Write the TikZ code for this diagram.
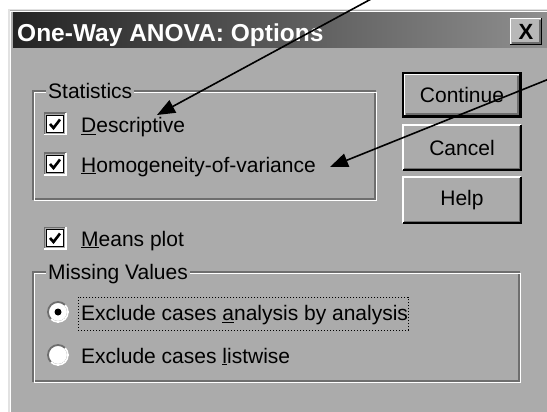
\documentclass[tikz,border=0pt]{standalone}
\usepackage{fontspec}
\setmainfont{Liberation Sans}
\usetikzlibrary{arrows.meta}
\definecolor{dlg}{HTML}{ABABAB}
\definecolor{shadowgray}{HTML}{6E6E6E}
\definecolor{hilite}{HTML}{E2E2E2}
\newcommand\raisedframe[1]{%
  \draw[white,line width=1.5pt] (#1.south west) -- (#1.north west) -- (#1.north east);
  \draw[black,line width=1.5pt] (#1.south west) -- (#1.south east) -- (#1.north east);
  \draw[shadowgray,line width=1.5pt] ([shift={(1.5,-1.5)}]#1.south west) -- ([shift={(-1.5,-1.5)}]#1.south east) -- ([shift={(-1.5,1.5)}]#1.north east);
}
\newcommand\sunkenframe[1]{%
  \draw[shadowgray,line width=1.5pt] ([shift={(-1.5,1.5)}]#1.south west) -- ([shift={(-1.5,-1.5)}]#1.north west) -- ([shift={(1.5,-1.5)}]#1.north east);
  \draw[white,line width=1.5pt] ([shift={(-1.5,1.5)}]#1.south west) -- ([shift={(1.5,1.5)}]#1.south east) -- ([shift={(1.5,-1.5)}]#1.north east);
}
\newcommand\checkmarkin[1]{%
  \draw[black,line width=2.6pt,line cap=butt,line join=miter] ([shift={(-5,0)}]#1.center) -- ([shift={(-1.5,4)}]#1.center) -- ([shift={(5,-4.5)}]#1.center);
}
\newcommand\radioframe[1]{%
  \draw[shadowgray,line width=1.8pt] (#1.center) circle[radius=10];
  \begin{scope}
    \clip ([shift={(-14,14)}]#1.center) -- ([shift={(14,-14)}]#1.center) -- ([shift={(14,14)}]#1.center) -- cycle;
    \draw[white,line width=1.8pt] (#1.center) circle[radius=10];
  \end{scope}
}
\begin{document}
\begin{tikzpicture}[x=1pt,y=-1pt,
  txt/.style={anchor=base west,inner sep=0pt,font=\fontsize{21}{24}\selectfont},
  grplbl/.style={anchor=base west,inner xsep=2pt,inner ysep=0pt,fill=dlg,font=\fontsize{21}{24}\selectfont},
  btn/.style={rectangle,fill=dlg,inner sep=0pt,minimum width=118pt,minimum height=45pt,font=\fontsize{21}{24}\selectfont},
  chk/.style={rectangle,draw=black,line width=1.5pt,fill=white,minimum size=17pt,inner sep=0pt},
  radio/.style={circle,fill=white,minimum size=19pt,inner sep=0pt},
  etched/.style={line width=1.5pt},
  pointer/.style={line width=1.6pt,-{Triangle[length=18pt,width=14pt]}}
]
\useasboundingbox (0,0) rectangle (547,412);
\fill[white] (0,0) rectangle (547,412);
% dialog body
\fill[dlg] (8,9) rectangle (548,413);
\draw[hilite,line width=1.5pt] (8.75,413) -- (8.75,9.75) -- (548,9.75);
\draw[white,line width=1.5pt] (10.5,413) -- (10.5,11.5) -- (548,11.5);
% title bar
\shade[left color=black!86,right color=black!44] (13,13) rectangle (548,48);
\node[anchor=base west,inner sep=0pt,text=white,font=\bfseries\fontsize{24.5}{28}\selectfont] (title) at (17,42) {One-Way ANOVA: Options};
\node[rectangle,fill=black!28,minimum width=31pt,minimum height=26pt,inner sep=0pt,font=\bfseries\fontsize{22}{24}\selectfont] (close) at (526,31.5) {X};
\raisedframe{close}
% buttons
\node[btn,minimum width=115pt,minimum height=41pt] (cont) at (462,95) {Continue};
\raisedframe{cont}
\draw[black,line width=1.5pt] ([shift={(-1.5,1.5)}]cont.south west) rectangle ([shift={(1.5,-1.5)}]cont.north east);
\node[btn] (cancel) at (462,147.5) {Cancel};
\raisedframe{cancel}
\node[btn,minimum height=46pt] (help) at (462,200) {Help};
\raisedframe{help}
% Statistics group
\draw[etched,shadowgray] (33,91) rectangle (375,199);
\draw[etched,white] (34.5,92.5) rectangle (376.5,200.5);
\node[grplbl] (stat) at (46,98.5) {Statistics};
\node[chk] (cbdesc) at (55,124) {};
\sunkenframe{cbdesc}
\checkmarkin{cbdesc}
\node[txt] (desc) at (81,132.5) {\underline{D}escriptive};
\node[chk] (cbhom) at (55,164) {};
\sunkenframe{cbhom}
\checkmarkin{cbhom}
\node[txt] (hom) at (81,172) {\underline{H}omogeneity-of-variance};
% Means plot
\node[chk] (cbmeans) at (55,238) {};
\sunkenframe{cbmeans}
\checkmarkin{cbmeans}
\node[txt] (means) at (81,246) {\underline{M}eans plot};
% Missing Values group
\draw[etched,shadowgray] (33,272) rectangle (519,381);
\draw[etched,white] (34.5,273.5) rectangle (520.5,382.5);
\node[grplbl] (miss) at (46,279.5) {Missing Values};
\node[radio] (r1) at (58,312) {};
\radioframe{r1}
\fill[black] (r1.center) circle[radius=3.5];
\node[txt] (ex1) at (81,320.5) {Exclude cases \underline{a}nalysis by analysis};
\draw[black,line width=1pt,dotted] ([shift={(-3,-8)}]ex1.north west) rectangle ([shift={(0,5)}]ex1.south east);
\node[radio] (r2) at (58,355) {};
\radioframe{r2}
\node[txt] (ex2) at (81,363) {Exclude cases \underline{l}istwise};
% pointer arrows
\coordinate (a1s) at (373,-2);
\coordinate (a1e) at (157,115);
\draw[pointer] (a1s) -- (a1e);
\coordinate (a2s) at (549,79);
\coordinate (a2e) at (330,167);
\draw[pointer] (a2s) -- (a2e);
\end{tikzpicture}
\end{document}
